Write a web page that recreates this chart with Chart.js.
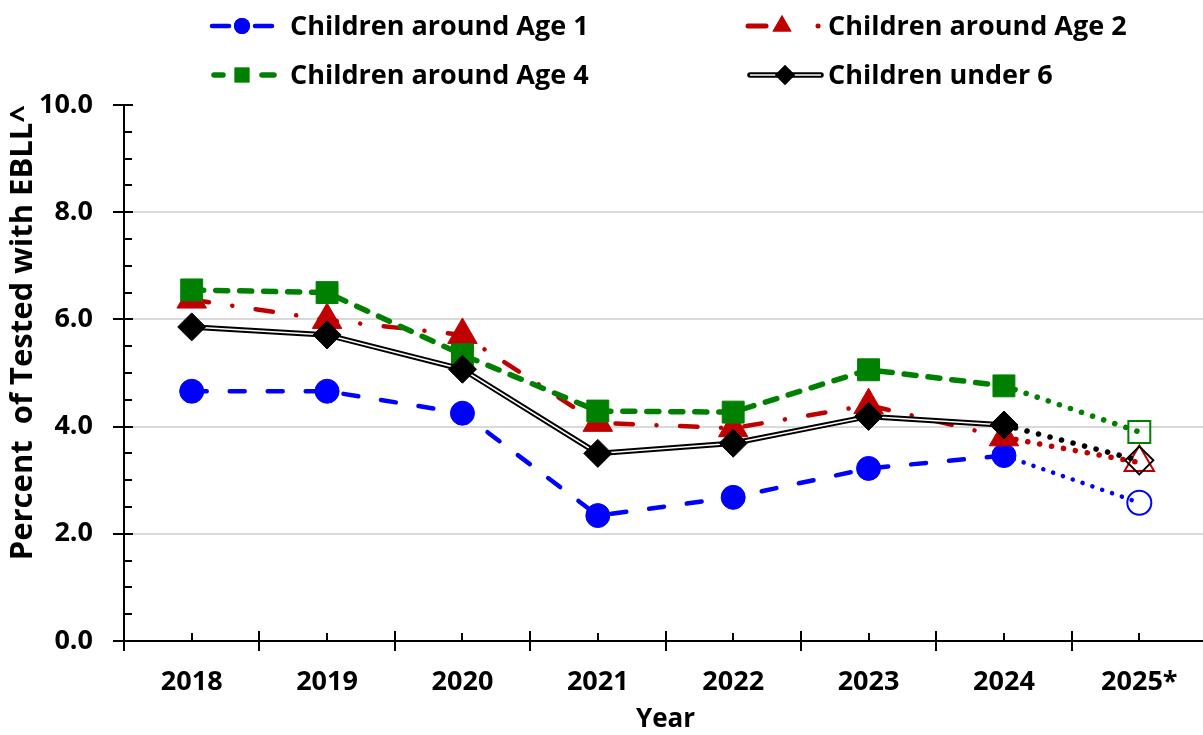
<!DOCTYPE html>
<html>
<head>
<meta charset="utf-8">
<title>Percent of Tested with EBLL</title>
<script src="https://cdn.jsdelivr.net/npm/chart.js@4/dist/chart.umd.min.js"></script>
<style>
  html, body { margin: 0; padding: 0; background: #fff; overflow: hidden; }
  #wrap { position: relative; width: 1203px; height: 735px; overflow: hidden; }
  #chart { position: absolute; left: 0; top: 0; }
  .legIcon { position: absolute; }
  .legText { position: absolute; font: bold 27px "Open Sans", sans-serif; color: #000; line-height: 32px; white-space: pre; }
</style>
</head>
<body>
<div id="wrap">
  <canvas id="chart" width="1207" height="735"></canvas>
</div>
<script>
// data
const years = ['2018', '2019', '2020', '2021', '2022', '2023', '2024', '2025*'];
const age1 = [4.66, 4.66, 4.25, 2.34, 2.68, 3.22, 3.46, 2.58];
const age2 = [6.37, 5.99, 5.71, 4.07, 3.97, 4.40, 3.80, 3.33];
const age4 = [6.55, 6.50, 5.34, 4.29, 4.27, 5.06, 4.76, 3.90];
const under6 = [5.86, 5.71, 5.07, 3.50, 3.69, 4.19, 4.03, 3.37];
const seriesNames = ['Children around Age 1', 'Children around Age 2', 'Children around Age 4', 'Children under 6'];
const yMin = 0, yMax = 10, yStep = 2;

const FONT = '"Open Sans", sans-serif';
const BLUE = '#0000FF', RED = '#C00000', GREEN = '#008000', BLACK = '#000000';
const NONE = 'rgba(0,0,0,0)';
const last = years.length - 1;

// last year (estimate) gets hollow markers and a dotted segment
const fillFor = (data, color) => data.map((v, i) => i === last ? NONE : color);
const bwFor = (data) => data.map((v, i) => i === last ? 2 : 1);
const dotted = (gap) => ctx => ctx.p1DataIndex === last ? [0.1, gap] : undefined;

// minor / major ticks that cross the axis lines, drawn from the scales
const axisTicks = {
  id: 'axisTicks',
  beforeDatasetsDraw(chart) {
    const { ctx, chartArea: a, scales: { x, y } } = chart;
    ctx.save();
    ctx.strokeStyle = '#000';
    ctx.lineWidth = 2;
    ctx.beginPath();
    for (let v = yMin; v <= yMax; v += 0.5) {
      const py = Math.round(y.getPixelForValue(v));
      if (v % yStep === 0) {
        ctx.moveTo(a.left - 11, py); ctx.lineTo(a.left + 9, py);
      } else {
        ctx.moveTo(a.left, py); ctx.lineTo(a.left + 8, py);
      }
    }
    for (let i = 0; i < years.length; i++) {
      const cx = Math.round(x.getPixelForValue(i));
      ctx.moveTo(cx, a.bottom - 8); ctx.lineTo(cx, a.bottom);
      if (i > 0) {
        const bx = Math.round((x.getPixelForValue(i - 1) + x.getPixelForValue(i)) / 2);
        ctx.moveTo(bx, a.bottom - 10); ctx.lineTo(bx, a.bottom + 10);
      }
    }
    ctx.moveTo(a.left - 11, a.bottom); ctx.lineTo(a.right, a.bottom);
    ctx.moveTo(a.left, a.top); ctx.lineTo(a.left, a.bottom + 10);
    ctx.stroke();
    ctx.restore();
  }
};

const chart = new Chart(document.getElementById('chart'), {
  type: 'line',
  data: {
    labels: years,
    datasets: [
      {
        label: seriesNames[0], data: age1, order: 5,
        borderColor: BLUE, borderWidth: 4.5, borderDash: [15, 23], borderCapStyle: 'round',
        segment: { borderDash: dotted(10.3) },
        pointStyle: 'circle', pointRadius: 12,
        pointBackgroundColor: fillFor(age1, BLUE), pointBorderColor: BLUE, pointBorderWidth: bwFor(age1)
      },
      {
        label: seriesNames[1], data: age2, order: 4,
        borderColor: RED, borderWidth: 4.5, borderDash: [17.5, 23.5, 0.1, 23.5], borderCapStyle: 'round',
        segment: { borderDash: dotted(12), borderWidth: ctx => ctx.p1DataIndex === last ? 5.5 : undefined },
        pointStyle: 'triangle', pointRadius: 17,
        pointBackgroundColor: fillFor(age2, RED), pointBorderColor: RED, pointBorderWidth: bwFor(age2)
      },
      {
        label: seriesNames[2], data: age4, order: 3,
        borderColor: GREEN, borderWidth: 5.5, borderDash: [12, 12], borderCapStyle: 'round',
        segment: { borderDash: dotted(11.6) },
        pointStyle: 'rect', pointRadius: 15.5,
        pointBackgroundColor: fillFor(age4, GREEN), pointBorderColor: GREEN, pointBorderWidth: bwFor(age4)
      },
      {
        label: seriesNames[3], data: under6, order: 2,
        borderColor: BLACK, borderWidth: 5.5, borderCapStyle: 'round',
        segment: { borderDash: dotted(11.8) },
        pointRadius: 0
      },
      {
        label: seriesNames[3] + ' (inner)', data: under6, order: 1,
        borderColor: '#FFFFFF', borderWidth: 1.5,
        segment: { borderColor: ctx => ctx.p1DataIndex === last ? NONE : undefined },
        pointRadius: 0
      },
      {
        label: seriesNames[3] + ' (markers)', data: under6, order: 0, showLine: false,
        pointStyle: 'rectRot', pointRadius: 14,
        pointBackgroundColor: fillFor(under6, BLACK), pointBorderColor: BLACK, pointBorderWidth: bwFor(under6)
      }
    ]
  },
  options: {
    responsive: false,
    animation: false,
    events: [],
    layout: { autoPadding: false, padding: { top: 105, right: 0, left: 0, bottom: 0 } },
    plugins: { legend: { display: false }, tooltip: { enabled: false } },
    scales: {
      x: {
        offset: true,
        grid: { display: false },
        border: { display: false },
        ticks: { color: '#000', padding: 17, font: { family: FONT, size: 27, weight: 'bold' }, maxRotation: 0 },
        title: { display: true, text: 'Year', color: '#000', padding: { top: 0, bottom: 0 }, font: { family: FONT, size: 26, weight: 'bold' } },
        afterFit(scale) {
          scale.height = 94;
          scale.paddingLeft = 0;
          scale.paddingRight = 0;
        }
      },
      y: {
        min: yMin, max: yMax,
        grid: {
          drawTicks: false, lineWidth: 2,
          color: ctx => (ctx.tick && ctx.tick.value > yMin && ctx.tick.value < yMax) ? '#D9D9D9' : NONE
        },
        border: { display: false },
        ticks: {
          stepSize: yStep, padding: 31, color: '#000',
          font: { family: FONT, size: 27, weight: 'bold' },
          callback: v => v.toFixed(1)
        },
        title: {
          display: true, text: 'Percent  of Tested with EBLL^', align: 'end', color: '#000',
          padding: { top: 5, bottom: 0 }, font: { family: FONT, size: 31, weight: 'bold' }
        },
        afterFit(scale) { scale.width = 124; }
      }
    }
  },
  plugins: [axisTicks]
});

// legend: two columns, sample line + marker drawn on small canvases
const legendItems = [
  { name: seriesNames[0], x: 207, textX: 290, y: 26, color: BLUE, width: 4.5, segs: [[5, 22], [48, 65]], marker: 'circle', r: 8 },
  { name: seriesNames[1], x: 742, textX: 828, y: 26, color: RED, width: 5, segs: [[6, 24], [76, 76.1]], marker: 'triangle', r: 11 },
  { name: seriesNames[2], x: 207, textX: 290, y: 75, color: GREEN, width: 5.5, segs: [[7, 16], [55, 67]], marker: 'rect', r: 10.5 },
  { name: seriesNames[3], x: 745, textX: 828, y: 75, color: BLACK, width: 5.5, segs: [[5, 76]], marker: 'rectRot', r: 10, double: true }
];
const wrap = document.getElementById('wrap');
legendItems.forEach(item => {
  const c = document.createElement('canvas');
  c.width = 82; c.height = 36;
  c.className = 'legIcon';
  c.style.left = item.x + 'px';
  c.style.top = (item.y - 18) + 'px';
  wrap.appendChild(c);
  const g = c.getContext('2d');
  g.lineCap = 'round';
  g.strokeStyle = item.color;
  g.lineWidth = item.width;
  item.segs.forEach(s => { g.beginPath(); g.moveTo(s[0], 18); g.lineTo(s[1], 18); g.stroke(); });
  if (item.double) {
    g.strokeStyle = '#fff'; g.lineWidth = 1.5; g.lineCap = 'butt';
    g.beginPath(); g.moveTo(item.segs[0][0], 18); g.lineTo(item.segs[0][1], 18); g.stroke();
  }
  g.fillStyle = item.color;
  const cx = item.marker === 'triangle' ? 40 : (item.double ? 40 : 35);
  Chart.helpers.drawPoint(g, { pointStyle: item.marker, radius: item.r, rotation: 0, borderWidth: 0 }, cx, 18);
  g.fill();
  const t = document.createElement('div');
  t.className = 'legText';
  t.textContent = item.name;
  t.style.left = item.textX + 'px';
  t.style.top = (item.y - 17) + 'px';
  wrap.appendChild(t);
});
</script>
</body>
</html>
